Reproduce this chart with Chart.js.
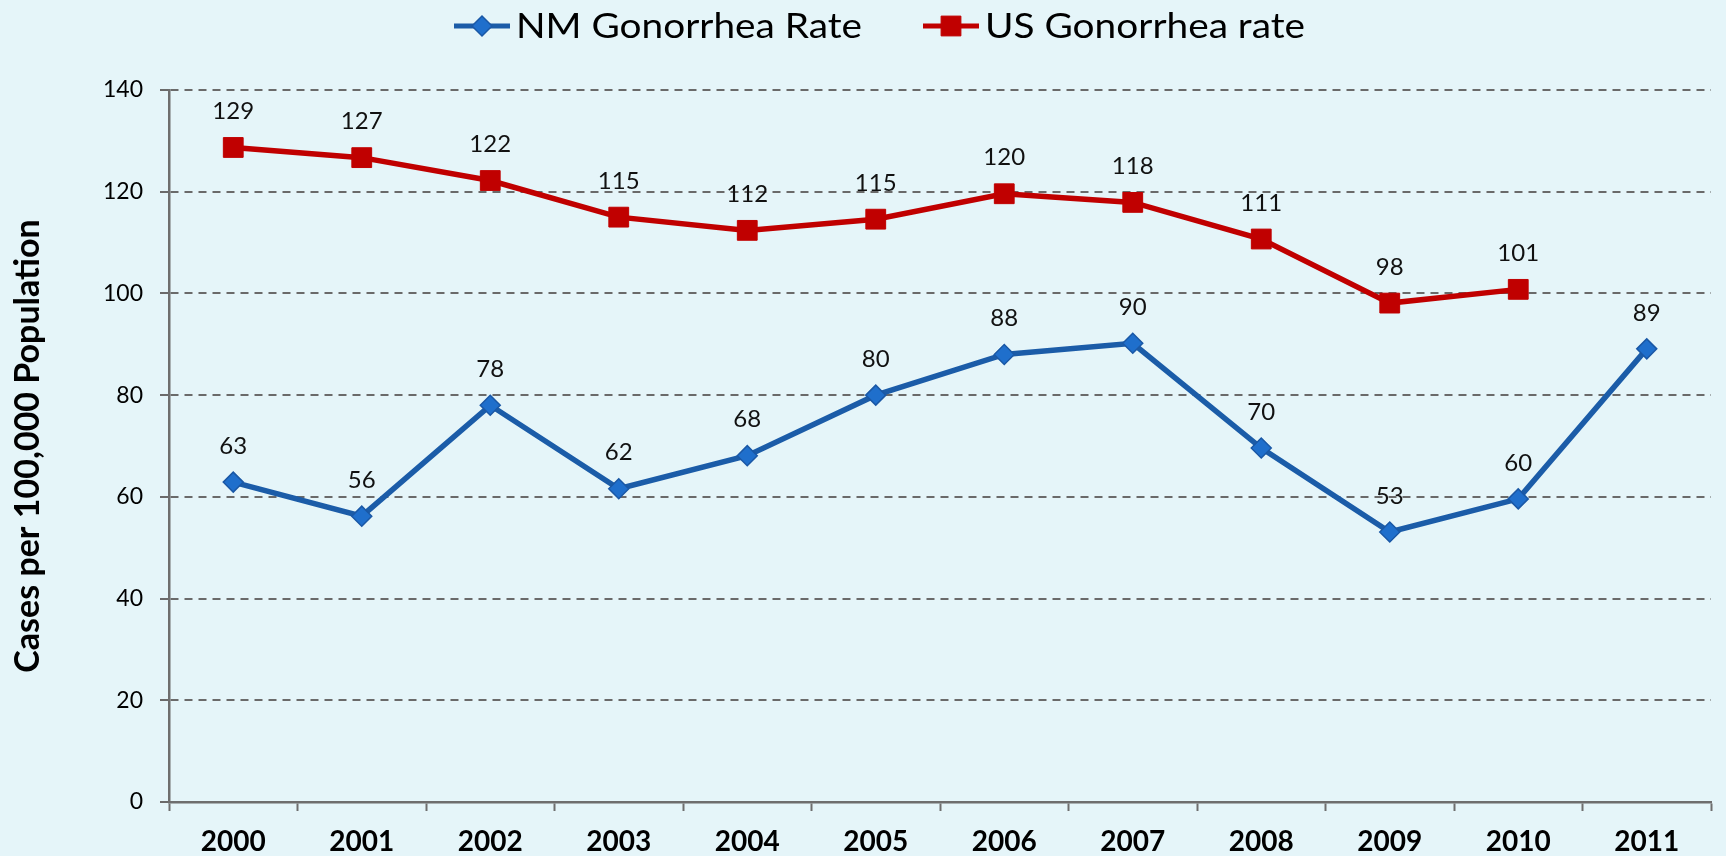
<!DOCTYPE html>
<html>
<head>
<meta charset="utf-8">
<script src="https://cdn.jsdelivr.net/npm/chart.js@4/dist/chart.umd.min.js"></script>
<style>
  html, body { margin: 0; padding: 0; background: #e5f5f9; }
  #wrap { width: 1726px; height: 856px; }
</style>
</head>
<body>
<div id="wrap"><canvas id="c" width="1726" height="856"></canvas></div>
<script>
// ---- data ----
const years = ['2000','2001','2002','2003','2004','2005','2006','2007','2008','2009','2010','2011'];
const nmRate = [62.9, 56.2, 78.0, 61.6, 68.1, 80.0, 88.0, 90.2, 69.6, 53.1, 59.6, 89.1];
const usRate = [128.7, 126.7, 122.2, 115.0, 112.4, 114.6, 119.6, 117.9, 110.7, 98.1, 100.8, null];
const seriesNames = ['NM Gonorrhea Rate', 'US Gonorrhea rate'];
const yAxisTitle = 'Cases per 100,000 Population';
const yMin = 0, yMax = 140, yStep = 20;

const FONT = 'Lato, "Open Sans", sans-serif';

const bgPlugin = {
  id: 'bg',
  beforeDraw(chart) {
    const ctx = chart.ctx;
    ctx.save();
    ctx.fillStyle = '#e5f5f9';
    ctx.fillRect(0, 0, chart.width, chart.height);
    ctx.restore();
  }
};

const labelPlugin = {
  id: 'pointLabels',
  afterDatasetsDraw(chart) {
    const ctx = chart.ctx;
    ctx.save();
    ctx.font = '24px ' + FONT;
    ctx.fillStyle = '#111';
    ctx.textAlign = 'center';
    ctx.textBaseline = 'middle';
    chart.data.datasets.forEach((ds, i) => {
      const meta = chart.getDatasetMeta(i);
      meta.data.forEach((pt, j) => {
        const v = ds.data[j];
        if (v === null || v === undefined) return;
        ctx.fillText(String(Math.round(v)), pt.x, pt.y - 36);
      });
    });
    ctx.restore();
  }
};

const legendPlugin = {
  id: 'customLegend',
  afterDraw(chart) {
    const ctx = chart.ctx;
    const y = 26;
    const starts = [454, 923];
    const targetW = [346, 320];
    ctx.save();
    chart.data.datasets.forEach((ds, i) => {
      const x0 = starts[i];
      const lineLen = 56;
      ctx.strokeStyle = ds.borderColor;
      ctx.lineWidth = 5;
      ctx.beginPath();
      ctx.moveTo(x0, y);
      ctx.lineTo(x0 + lineLen, y);
      ctx.stroke();
      ctx.fillStyle = ds.pointBackgroundColor;
      ctx.strokeStyle = ds.pointBorderColor;
      ctx.lineWidth = ds.pointBorderWidth;
      Chart.helpers.drawPoint(ctx, {
        pointStyle: ds.pointStyle,
        radius: ds.pointRadius,
        rotation: 0,
        borderWidth: ds.pointBorderWidth
      }, x0 + lineLen / 2, y);
      ctx.font = '35px ' + FONT;
      ctx.fillStyle = '#000';
      ctx.textAlign = 'left';
      ctx.textBaseline = 'middle';
      const w = ctx.measureText(ds.label).width;
      const sx = targetW[i] / w;
      ctx.save();
      ctx.translate(x0 + lineLen + 6, y + 1);
      ctx.scale(sx, 1);
      ctx.fillText(ds.label, 0, 0);
      ctx.restore();
    });
    ctx.restore();
  }
};

function build() {
  new Chart(document.getElementById('c'), {
    type: 'line',
    data: {
      labels: years,
      datasets: [
        {
          label: seriesNames[0],
          data: nmRate,
          borderColor: '#1b5ca8',
          borderWidth: 5.5,
          pointStyle: 'rectRot',
          pointRadius: 10,
          pointHoverRadius: 10,
          pointBackgroundColor: '#1f6fcc',
          pointBorderColor: '#1a58a6',
          pointBorderWidth: 1.5,
          tension: 0
        },
        {
          label: seriesNames[1],
          data: usRate,
          borderColor: '#c00000',
          borderWidth: 5.5,
          pointStyle: 'rect',
          pointRadius: 14,
          pointHoverRadius: 14,
          pointBackgroundColor: '#c00000',
          pointBorderColor: '#c00000',
          pointBorderWidth: 1,
          tension: 0
        }
      ]
    },
    options: {
      responsive: false,
      animation: false,
      layout: { padding: { top: 90, left: 0, right: 0, bottom: 0 } },
      plugins: {
        legend: { display: false },
        tooltip: { enabled: false },
        title: { display: false }
      },
      scales: {
        x: {
          offset: true,
          grid: {
            display: true,
            offset: true,
            drawOnChartArea: false,
            drawTicks: true,
            tickLength: 9,
            tickColor: '#6e6e6e',
            tickWidth: 2
          },
          border: { display: true, color: '#6e6e6e', width: 2.5 },
          ticks: {
            color: '#000',
            font: { family: FONT, size: 28, weight: 'bold' },
            padding: 14,
            maxRotation: 0,
            autoSkip: false
          },
          afterFit(scale) { scale.height = 54; }
        },
        y: {
          min: yMin,
          max: yMax,
          grid: {
            color: '#6a6a6a',
            lineWidth: 2,
            drawTicks: true,
            tickLength: 9,
            tickColor: '#6a6a6a',
            tickWidth: 2
          },
          border: { display: true, color: '#6e6e6e', width: 2.5, dash: [8, 6] },
          ticks: {
            stepSize: yStep,
            color: '#000',
            font: { family: FONT, size: 23 },
            padding: 17
          },
          title: {
            display: true,
            text: yAxisTitle,
            color: '#000',
            font: { family: FONT, size: 34, weight: 'bold' },
            padding: { top: 8, bottom: 0 }
          },
          afterFit(scale) { scale.width = 169; }
        }
      }
    },
    plugins: [bgPlugin, labelPlugin, legendPlugin]
  });
}

const loads = ['23px Lato', 'bold 28px Lato', 'bold 34px Lato', '35px Lato', '24px Lato']
  .map(f => document.fonts ? document.fonts.load(f) : Promise.resolve());
Promise.all(loads).then(build, build);
</script>
</body>
</html>
